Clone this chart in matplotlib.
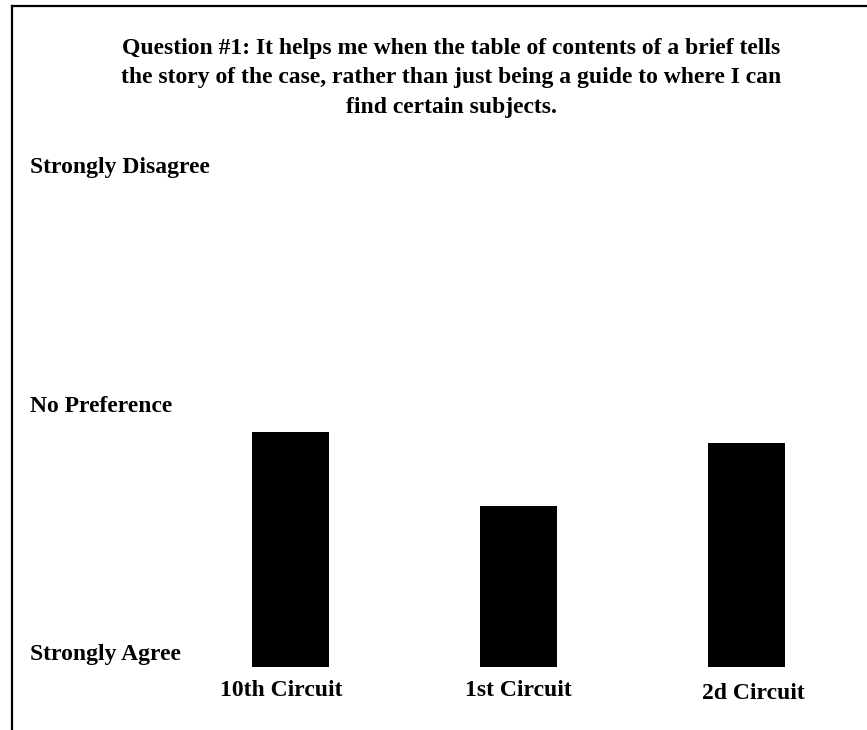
import matplotlib
matplotlib.use("Agg")
import matplotlib.pyplot as plt
from matplotlib.lines import Line2D

# 데이터
circuits = ["10th Circuit", "1st Circuit", "2d Circuit"]
scores = [2.93, 2.32, 2.84]          # 1 = Strongly Agree, 5 = Strongly Disagree
scale_labels = ["Strongly Agree", "No Preference", "Strongly Disagree"]
scale_levels = [1, 3, 5]
title = ("Question #1: It helps me when the table of contents of a brief tells\n"
         "the story of the case, rather than just being a guide to where I can\n"
         "find certain subjects.")

plt.rcParams["font.family"] = ["Liberation Serif", "DejaVu Serif"]
plt.rcParams["font.weight"] = "bold"
FS = 17

W, H = 867, 730
fig = plt.figure(figsize=(W / 100, H / 100), dpi=100)
ax = fig.add_axes([0, 0, 1, 1])

# x: 막대 중심 290.5px, 간격 228px
x0, dx = 290.5, 228.0
ax.set_xlim(-x0 / dx, (W - x0) / dx)
# y: 값 1 -> 667px, 단위 121.75px
y1, dy = 667.0, 121.75
ax.set_ylim(1 - (H - y1) / dy, 1 + y1 / dy)

xs = list(range(len(circuits)))
ax.bar(xs, [s - 1 for s in scores], bottom=1, width=77 / dx, color="black")

# 척도 라벨 (왼쪽)
label_lift = [5, 8, 5]   # 점 단위 위로 올림
for lvl, lab, lift in zip(scale_levels, scale_labels, label_lift):
    ax.annotate(lab, xy=(30 / W, lvl), xycoords=("axes fraction", "data"),
                xytext=(0, lift), textcoords="offset points",
                ha="left", va="baseline", fontsize=FS, fontweight="bold")

# 범주 라벨 (아래)
shift_x = [-7, 0, 5]     # 점 단위 좌우 보정
shift_y = [-17, -17, -19]
for x, lab, sx, sy in zip(xs, circuits, shift_x, shift_y):
    ax.annotate(lab, xy=(x, 1), xycoords="data", xytext=(sx, sy),
                textcoords="offset points", ha="center", va="center",
                fontsize=FS, fontweight="bold")

fig.text(451 / W, 1 - 78 / H, title, ha="center", va="center",
         fontsize=FS, fontweight="bold", linespacing=1.55)

ax.axis("off")

# 테두리 (왼쪽, 위)
fig.add_artist(Line2D([11.5 / W, 11.5 / W], [0, 1 - 5.5 / H],
                      transform=fig.transFigure, color="black", lw=1.6))
fig.add_artist(Line2D([11.5 / W, 1], [1 - 5.5 / H, 1 - 5.5 / H],
                      transform=fig.transFigure, color="black", lw=1.6))

fig.savefig("out.png", dpi=100, facecolor="white")
